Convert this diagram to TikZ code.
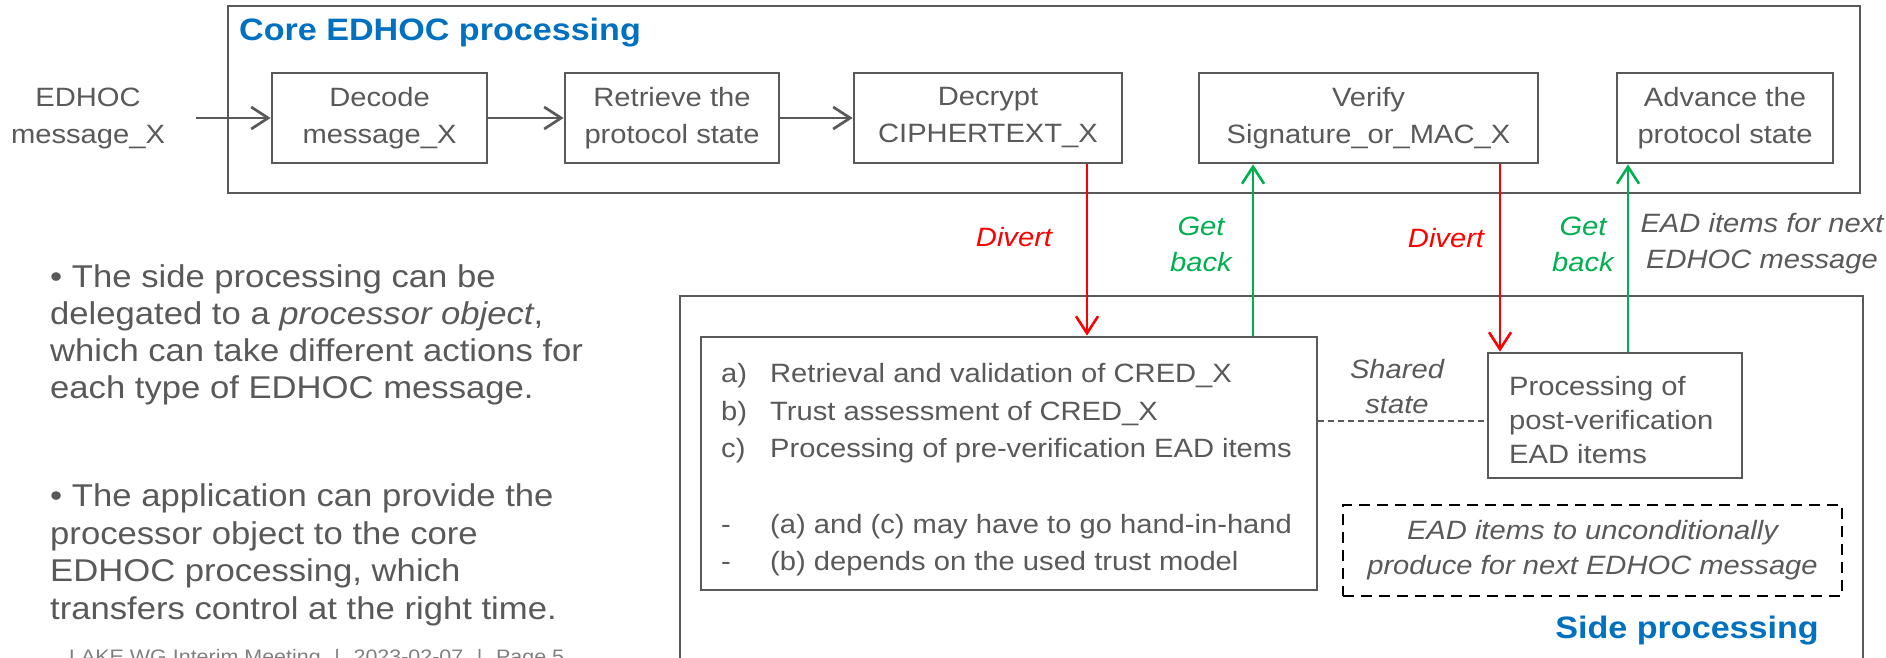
\documentclass[tikz,border=0pt]{standalone}
\usepackage{fontspec}
\setmainfont[FakeStretch=1.1]{Liberation Sans}
\usetikzlibrary{arrows.meta,calc}

\definecolor{ink}{HTML}{595959}
\definecolor{divred}{HTML}{FF0000}
\definecolor{getgreen}{HTML}{00B050}
\definecolor{headblue}{HTML}{0070C0}
\definecolor{footgray}{HTML}{7F7F7F}

\begin{document}
\begin{tikzpicture}[x=1pt,y=-1pt,
  frame/.style={draw=ink, line width=2.7pt, inner sep=0pt},
  stepbox/.style={draw=ink, line width=2.7pt, inner sep=0pt, text=ink,
    align=center, minimum height=90pt, font=\fontsize{26.5}{37}\selectfont},
  plain/.style={text=ink, inner sep=0pt, font=\fontsize{26.5}{37}\selectfont},
  lab/.style={inner sep=0pt, align=center, font=\itshape\fontsize{26.5}{36}\selectfont},
  heading/.style={inner sep=0pt, text=headblue, font=\bfseries\fontsize{31}{36}\selectfont},
  head/.style={-{Straight Barb[length=17pt,width=22pt]}},
  flow/.style={draw=ink, line width=2.7pt, head},
  divert/.style={draw=divred, line width=2.6pt, head},
  getback/.style={draw=getgreen, line width=2.6pt, head},
  shared/.style={draw=ink, line width=2pt, dash pattern=on 6pt off 4pt},
  dashbox/.style={draw=black, line width=2.6pt, dash pattern=on 11pt off 7pt,
    inner sep=0pt, text=ink, align=center, font=\itshape\fontsize{26.5}{35}\selectfont}
]
\useasboundingbox (0,0) rectangle (1886,658);

% ---- core processing frame and its steps ----
\node[frame, minimum width=1632pt, minimum height=187pt] (core) at (1044,99.5) {};
\node[heading, anchor=base west] (coretitle) at (239,41) {Core EDHOC processing};

\node[plain, align=center] (msg) at (88,118) {EDHOC\\message\_X};
\node[stepbox, minimum width=215pt] (dec) at (379.5,118) {Decode\\message\_X};
\node[stepbox, minimum width=214pt] (ret) at (672,118) {Retrieve the\\protocol state};
\node[stepbox, minimum width=268pt] (dcr) at (988,118) {Decrypt\\CIPHERTEXT\_X};
\node[stepbox, minimum width=339pt] (ver) at (1368.5,118) {Verify\\Signature\_or\_MAC\_X};
\node[stepbox, minimum width=216pt] (adv) at (1725,118) {Advance the\\protocol state};

\draw[flow] ([xshift=31pt]msg.east) -- (dec.west);
\draw[flow] (dec.east) -- (ret.west);
\draw[flow] (ret.east) -- (dcr.west);

% ---- side processing frame ----
\node[frame, minimum width=1183pt, minimum height=364pt] (side) at (1271.5,478) {};
\node[heading, anchor=base east] (sidetitle) at (1819,638) {Side processing};

\node[frame, minimum width=616pt, minimum height=253pt] (abc) at (1009,463.5) {};
\node[plain, anchor=west, align=left, font=\fontsize{26.5}{37.5}\selectfont] (abctext) at (721,470)
  {\makebox[49pt][l]{a)}Retrieval and validation of CRED\_X\\
   \makebox[49pt][l]{b)}Trust assessment of CRED\_X\\
   \makebox[49pt][l]{c)}Processing of pre-verification EAD items\\[38pt]
   \makebox[49pt][l]{-}(a) and (c) may have to go hand-in-hand\\
   \makebox[49pt][l]{-}(b) depends on the used trust model};

\node[frame, minimum width=254pt, minimum height=125pt] (post) at (1615,415.5) {};
\node[plain, anchor=west, align=left, font=\fontsize{26.5}{34}\selectfont] (posttext) at (1509,420)
  {Processing of\\post-verification\\EAD items};

\node[dashbox, minimum width=499pt, minimum height=91pt] (uncond) at (1592.5,550.5)
  {EAD items to unconditionally\\produce for next EDHOC message};

\draw[shared] ([yshift=-5.5pt]abc.east |- post.west) -- ([yshift=-5.5pt]post.west);
\node[lab, text=ink, font=\itshape\fontsize{26.5}{35}\selectfont] (sharedlab) at (1397,387) {Shared\\state};

% ---- hand-over between core and side processing ----
\coordinate (d1) at (1087,0);
\coordinate (g1) at (1253,0);
\coordinate (d2) at (1500,0);
\coordinate (g2) at (1628,0);

\draw[divert] (dcr.south -| d1) -- (abc.north -| d1);
\draw[getback] (abc.north -| g1) -- (ver.south -| g1);
\draw[divert] (ver.south -| d2) -- (post.north -| d2);
\draw[getback] (post.north -| g2) -- (adv.south -| g2);

\node[lab, text=divred] (div1) at (1014,237) {Divert};
\node[lab, text=getgreen] (get1) at (1201,244) {Get\\back};
\node[lab, text=divred] (div2) at (1446,238) {Divert};
\node[lab, text=getgreen] (get2) at (1583,244) {Get\\back};
\node[lab, text=ink] (nextead) at (1762,244) {EAD items for next\\EDHOC message};

% ---- explanatory bullets ----
\node[plain, anchor=west, align=left, font=\fontsize{31.5}{37}\selectfont] (bullet1) at (50,335)
  {• The side processing can be\\
   delegated to a \textit{processor object},\\
   which can take different actions for\\
   each type of EDHOC message.};
\node[plain, anchor=west, align=left, font=\fontsize{31.5}{37.5}\selectfont] (bullet2) at (50,555)
  {• The application can provide the\\
   processor object to the core\\
   EDHOC processing, which\\
   transfers control at the right time.};

\node[inner sep=0pt, anchor=base west, text=footgray, font=\fontsize{19.5}{20}\selectfont] (footer) at (69,663)
  {LAKE WG Interim Meeting\hspace{0.7em}|\hspace{0.7em}2023-02-07\hspace{0.7em}|\hspace{0.7em}Page 5};
\end{tikzpicture}
\end{document}
